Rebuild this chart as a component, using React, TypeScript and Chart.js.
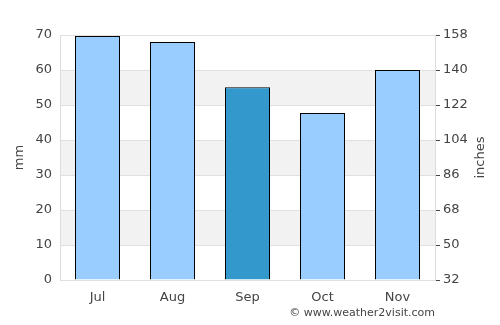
import React, { useEffect, useRef } from "react";
import { Chart, registerables } from "chart.js";

Chart.register(...registerables);

const months = ["Jul", "Aug", "Sep", "Oct", "Nov"];
const rainfallMm = [69.7, 68, 55.1, 47.7, 60];
const barColors = ["#99ccff", "#99ccff", "#3399cc", "#99ccff", "#99ccff"];
const leftMin = 0;
const leftMax = 70;
const rightMin = 32;
const rightMax = 158;
const rightLabelStep = 18;
const bandRanges = [[10, 20], [30, 40], [50, 60]];
const leftTitle = "mm";
const rightTitle = "inches";
const watermark = "© www.weather2visit.com";

const FONT = "'DejaVu Sans', sans-serif";

const bandsPlugin = {
  id: "bands",
  beforeDraw(chart: any) {
    const { ctx, chartArea } = chart;
    const y = chart.scales.y;
    ctx.save();
    ctx.fillStyle = "#f2f2f2";
    for (const [a, b] of bandRanges) {
      const y1 = y.getPixelForValue(b);
      const y2 = y.getPixelForValue(a);
      ctx.fillRect(chartArea.left, y1, chartArea.right - chartArea.left, y2 - y1);
    }
    ctx.restore();
  },
  afterDraw(chart: any) {
    const { ctx, chartArea } = chart;
    const midY = (chartArea.top + chartArea.bottom) / 2;
    ctx.save();
    ctx.font = "11px " + FONT;
    ctx.fillStyle = "#444";
    ctx.textAlign = "right";
    ctx.textBaseline = "middle";
    ctx.fillText(watermark, chartArea.right, 313);
    ctx.font = "13px " + FONT;
    ctx.textAlign = "center";
    ctx.translate(20, midY);
    ctx.rotate(-Math.PI / 2);
    ctx.fillText(leftTitle, 0, 0);
    ctx.restore();
    ctx.save();
    ctx.font = "13px " + FONT;
    ctx.fillStyle = "#444";
    ctx.textAlign = "center";
    ctx.textBaseline = "middle";
    ctx.translate(481, midY);
    ctx.rotate(-Math.PI / 2);
    ctx.fillText(rightTitle, 0, 0);
    ctx.restore();
  },
};

export default function App() {
  const ref = useRef<HTMLCanvasElement>(null);
  useEffect(() => {
    const chart = new Chart(ref.current!, {
      type: "bar",
      data: {
        labels: months,
        datasets: [
          {
            data: rainfallMm,
            backgroundColor: barColors,
            borderColor: "#000",
            borderWidth: 1,
            categoryPercentage: 1,
            barPercentage: 0.6,
            yAxisID: "y",
          },
        ],
      },
      options: {
        animation: false,
        responsive: false,
        layout: { padding: { top: 35, left: 0, right: 0, bottom: 0 } },
        plugins: { legend: { display: false }, tooltip: { enabled: false } },
        scales: {
          x: {
            grid: { display: false, drawTicks: false },
            border: { display: false },
            ticks: { font: { family: FONT, size: 13 }, color: "#444", padding: 10 },
            afterFit: (s: any) => { s.height = 45; },
          },
          y: {
            position: "left",
            min: leftMin,
            max: leftMax,
            ticks: { stepSize: 10, font: { family: FONT, size: 13 }, color: "#444", padding: 8 },
            grid: { color: "#e0e0e0", drawTicks: false },
            border: { color: "#dddddd" },
            afterFit: (s: any) => { s.width = 60; },
          },
          y2: {
            position: "right",
            min: rightMin,
            max: rightMax,
            ticks: {
              stepSize: rightLabelStep / 2,
              font: { family: FONT, size: 13 },
              color: "#444",
              padding: 3,
              callback: (v: any) => ((Number(v) - rightMin) % rightLabelStep === 0 ? String(v) : ""),
            },
            grid: { drawOnChartArea: false, drawTicks: true, tickLength: 5, color: "#444" },
            border: { color: "#dddddd" },
            afterFit: (s: any) => { s.width = 65; },
          },
        },
      },
      plugins: [bandsPlugin],
    } as any);
    return () => chart.destroy();
  }, []);
  return (
    <div style={{ position: "fixed", left: 0, top: 0, width: 500, height: 325, background: "#fff" }}>
      <canvas ref={ref} width={500} height={325} style={{ display: "block", width: 500, height: 325 }} />
    </div>
  );
}
